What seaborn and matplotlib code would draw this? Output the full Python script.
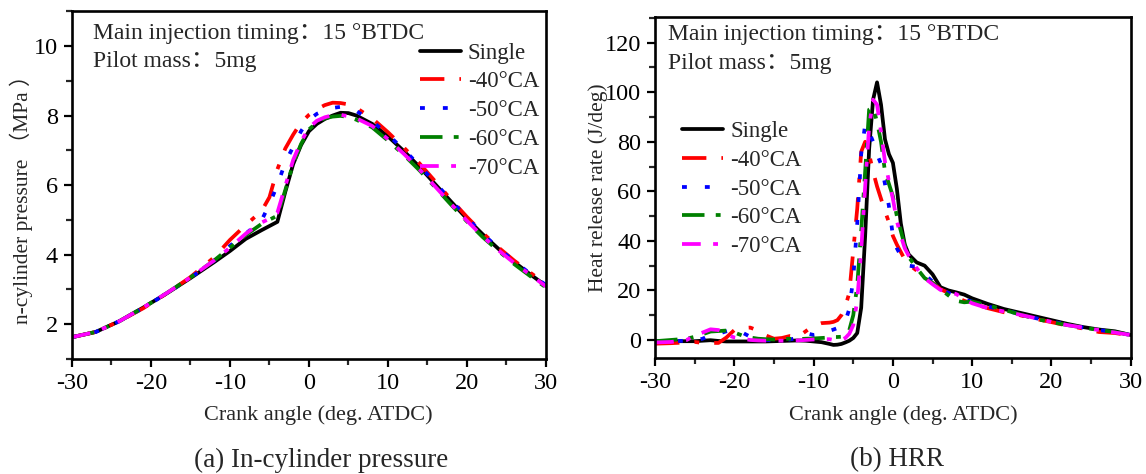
import matplotlib
matplotlib.use("Agg")
import matplotlib.pyplot as plt
import numpy as np
import pandas as pd
import seaborn as sns
from matplotlib.ticker import MultipleLocator

# ---------------- data ----------------
cases = ["Single", "-40°CA", "-50°CA", "-60°CA", "-70°CA"]
colors = ["#000000", "#FF0000", "#0000FF", "#008000", "#FF00FF"]

angle_p = [-30, -27, -24, -21, -18, -15, -12, -10, -8, -6, -5, -4, -3, -2, -1, 0, 1, 2,
           3, 4, 5, 6, 8, 10, 12, 14, 16, 18, 20, 22, 24, 26, 28, 30]
p_single = [1.62, 1.77, 2.08, 2.47, 2.88, 3.32, 3.78, 4.10, 4.45, 4.70, 4.82, 4.94, 5.80, 6.60,
            7.15, 7.55, 7.76, 7.90, 8.00, 8.08, 8.07, 8.00, 7.76, 7.40, 6.98, 6.52, 6.02, 5.52,
            5.03, 4.58, 4.16, 3.78, 3.43, 3.10]
p_40 = [1.62, 1.77, 2.08, 2.45, 2.88, 3.35, 3.92, 4.42, 4.85, 5.25, 5.65, 6.45, 7.05, 7.45,
        7.80, 8.02, 8.18, 8.30, 8.37, 8.36, 8.32, 8.22, 7.92, 7.52, 7.08, 6.62, 6.10, 5.58,
        5.08, 4.62, 4.20, 3.82, 3.48, 3.15]
p_50 = [1.62, 1.77, 2.08, 2.46, 2.88, 3.33, 3.82, 4.25, 4.60, 4.98, 5.45, 6.00, 6.65, 7.10,
        7.55, 7.88, 8.05, 8.15, 8.22, 8.25, 8.20, 8.13, 7.84, 7.45, 7.02, 6.56, 6.06, 5.55,
        5.06, 4.59, 4.18, 3.80, 3.45, 3.12]
p_60 = [1.62, 1.77, 2.08, 2.47, 2.89, 3.34, 3.83, 4.20, 4.56, 4.88, 5.00, 5.12, 5.85, 6.62,
        7.18, 7.60, 7.80, 7.92, 7.97, 7.99, 7.96, 7.88, 7.66, 7.28, 6.87, 6.42, 5.93, 5.43,
        4.95, 4.50, 4.10, 3.72, 3.38, 3.05]
p_70 = [1.62, 1.77, 2.08, 2.47, 2.89, 3.34, 3.83, 4.20, 4.60, 4.92, 5.03, 5.20, 5.97, 6.72,
        7.25, 7.65, 7.85, 7.95, 8.01, 8.02, 7.98, 7.92, 7.70, 7.32, 6.90, 6.45, 5.95, 5.45,
        4.97, 4.52, 4.12, 3.75, 3.42, 3.08]

angle_h = [-30, -28, -26, -25, -24, -23, -22, -21, -20, -19, -18, -17, -16, -15, -14, -13,
           -12, -11, -10, -9, -8, -7.5, -7, -6.5, -6, -5.5, -5, -4.5, -4, -3.5, -3, -2.5, -2,
           -1.5, -1, -0.5, 0, 0.5, 1, 1.5, 2, 3, 4, 5, 6, 7, 8, 9, 10, 12, 14, 16, 18, 20,
           22, 24, 26, 28, 30]
hrr_single = [-0.5, -0.5, -0.5, -0.5, -0.3, -0.1, -0.4, -0.6, -0.6, -0.6, -0.6, -0.6, -0.6,
              -0.5, -0.4, -0.3, -0.2, -0.3, -0.6, -0.9, -1.6, -2.0, -1.9, -1.6, -1.0, -0.3,
              0.8, 2.8, 13, 42, 77, 97, 104, 95, 81, 75, 71.5, 61, 47, 38.5, 34.5, 31.3, 30,
              26.5, 21.3, 20, 19.2, 18.3, 16.8, 14.5, 12.5, 11, 9.5, 8, 6.5, 5.2, 4.2, 3.5, 2]
hrr_40 = [-1.5, -1.3, -1.0, -0.8, -1.2, -1.2, -1.2, 1.0, 4.0, 4.8, 5.0, 3.8, 1.8, 0.5, 0.8,
          1.6, 1.2, 3.5, 5.8, 6.8, 7.0, 7.3, 8.0, 10, 13.5, 19, 36, 53, 76, 80, 75, 68, 62,
          57, 52, 47.5, 42, 38.5, 35.5, 32.5, 30.5, 28, 25, 23, 20.5, 19, 17.2, 15.8, 14.8,
          12.8, 11.2, 10, 8.5, 7.2, 5.8, 4.6, 3.2, 2.8, 1.8]
hrr_50 = [-0.5, -0.5, -0.3, -0.3, 0.5, 2.0, 2.5, 3.5, 4.3, 3.0, 1.3, 0.5, 0.0, -0.2, 0.0,
          0.2, 0.8, 2.8, 2.0, 2.4, 3.7, 4.2, 4.8, 5.6, 7.5, 12.5, 25, 47, 75, 87, 84, 80, 75,
          71, 63, 54, 42, 37, 34, 31.5, 30, 29.5, 26.5, 23.5, 20.5, 19, 17.5, 16.3, 15.5,
          13.5, 12, 10.5, 8.8, 7.5, 6.2, 5, 4, 3.2, 2]
hrr_60 = [-0.5, 0.0, 0.5, 1.3, 2.3, 3.4, 3.6, 3.8, 3.0, 1.8, 1.0, 0.5, 0.3, 0.2, 0.3, 0.5,
          0.3, 0.5, 0.6, 0.8, 1.0, 1.2, 1.2, 1.3, 2.0, 4, 10, 22, 44, 68, 93, 94, 88, 80,
          68, 63, 58, 50, 44, 38, 33.5, 29, 25, 23, 20.5, 18, 15.8, 15.2, 15.5, 14, 12.2,
          10.3, 8.5, 7.2, 6, 5, 4, 3.2, 2]
hrr_70 = [-1.0, -0.8, 0.0, 1.8, 3.0, 4.3, 4.0, 2.2, 1.0, 0.5, 0.0, -0.2, -0.3, -0.3, -0.3,
          -0.3, -0.2, 0.0, 0.2, 0.3, 0.3, 0.0, -0.2, 0.0, 0.8, 2.5, 6, 16, 36, 62, 86, 97,
          95, 84, 72, 64, 57, 48, 42, 37, 34, 29, 25, 22.5, 20.2, 19.5, 18.5, 16.5, 14.8,
          12.8, 11.5, 10.2, 8.8, 7.3, 6, 5, 4, 3, 2]

x_ticks = [-30, -20, -10, 0, 10, 20, 30]
p_ticks = [2, 4, 6, 8, 10]
h_ticks = [0, 20, 40, 60, 80, 100, 120]

dash_styles = ["", (6.5, 4, 1.3, 4), (1.3, 4.8), (6, 3, 1.3, 3), (5, 3.3, 1.3, 3.3)]

# ---------------- style ----------------
sns.set_theme(style="ticks")
plt.rcParams["font.family"] = ["Liberation Serif", "Noto Sans CJK SC"]
plt.rcParams["axes.linewidth"] = 1.9

fig = plt.figure(figsize=(11.46, 4.74), dpi=100)
ax1 = fig.add_axes([0.0628, 0.2432, 0.4136, 0.7329])
ax2 = fig.add_axes([0.5716, 0.2441, 0.4151, 0.7207])

def long_df(x, series):
    frames = []
    for name, vals in zip(cases, series):
        frames.append(pd.DataFrame({"angle": x, "value": vals, "case": name}))
    return pd.concat(frames, ignore_index=True)

df_p = long_df(angle_p, [p_single, p_40, p_50, p_60, p_70])
df_h = long_df(angle_h, [hrr_single, hrr_40, hrr_50, hrr_60, hrr_70])

pal = dict(zip(cases, colors))
dsh = dict(zip(cases, dash_styles))

for ax, df in [(ax1, df_p), (ax2, df_h)]:
    sns.lineplot(data=df, x="angle", y="value", hue="case", style="case",
                 hue_order=cases, style_order=cases, palette=pal, dashes=dsh,
                 estimator=None, sort=False, linewidth=2.7, ax=ax, legend=False)

for ax in (ax1, ax2):
    ax.set_xlim(-30, 30)
    ax.set_xticks(x_ticks)
    ax.set_xticklabels([str(t) for t in x_ticks])
    ax.xaxis.set_minor_locator(MultipleLocator(5))
    ax.tick_params(axis="both", which="major", direction="out", length=6, width=1.6,
                   labelsize=17.5, pad=4, colors="black")
    ax.tick_params(axis="both", which="minor", direction="out", length=4, width=1.6)
    ax.tick_params(top=False, right=False, which="both")
    for s in ax.spines.values():
        s.set_visible(True)
        s.set_color("black")
        s.set_linewidth(1.9)
    ax.set_facecolor("white")

ax1.set_ylim(1, 11)
ax1.set_yticks(p_ticks)
ax1.set_yticklabels([str(t) for t in p_ticks])
ax1.yaxis.set_minor_locator(MultipleLocator(1))

ax2.set_ylim(-7.4, 130.5)
ax2.set_yticks(h_ticks)
ax2.set_yticklabels([str(t) for t in h_ticks])
ax2.yaxis.set_minor_locator(MultipleLocator(10))

ax1.set_xlabel("Crank angle (deg. ATDC)", fontsize=16)
ax2.set_xlabel("Crank angle (deg. ATDC)", fontsize=16)
ax1.xaxis.set_label_coords(0.52, -0.135)
ax2.xaxis.set_label_coords(0.522, -0.138)
ax1.set_ylabel("n-cylinder pressure （MPa ）", fontsize=15.5)
ax2.set_ylabel("Heat release rate (J/deg)", fontsize=15.5)
ax1.yaxis.set_label_coords(-0.082, 0.474)
ax2.yaxis.set_label_coords(-0.099, 0.5)

# annotations
for ax, xx, y1, y2 in [(ax1, 0.0443, 0.919, 0.8405), (ax2, 0.0273, 0.9318, 0.846)]:
    ax.text(xx, y1, "Main injection timing：15 °BTDC", transform=ax.transAxes,
            fontsize=17, va="baseline", ha="left")
    ax.text(xx, y2, "Pilot mass：5mg", transform=ax.transAxes,
            fontsize=17, va="baseline", ha="left")

# legends
for ax, anchor in [(ax1, (0.734, 0.91)), (ax2, (0.0568, 0.695))]:
    handles = ax.get_lines()[:5]
    ax.legend(handles, cases, loc="upper left", bbox_to_anchor=anchor, frameon=False,
              fontsize=16.5, handlelength=1.8, handletextpad=0.3, labelspacing=0.34,
              borderpad=0, borderaxespad=0)

fig.text(321.4 / 1146, 1 - 460 / 474, "(a) In-cylinder pressure", fontsize=19.5,
         ha="center", va="center")
fig.text(896.8 / 1146, 1 - 460 / 474, "(b) HRR", fontsize=19.5, ha="center", va="center")

fig.savefig("out.png", dpi=100, facecolor="white")
